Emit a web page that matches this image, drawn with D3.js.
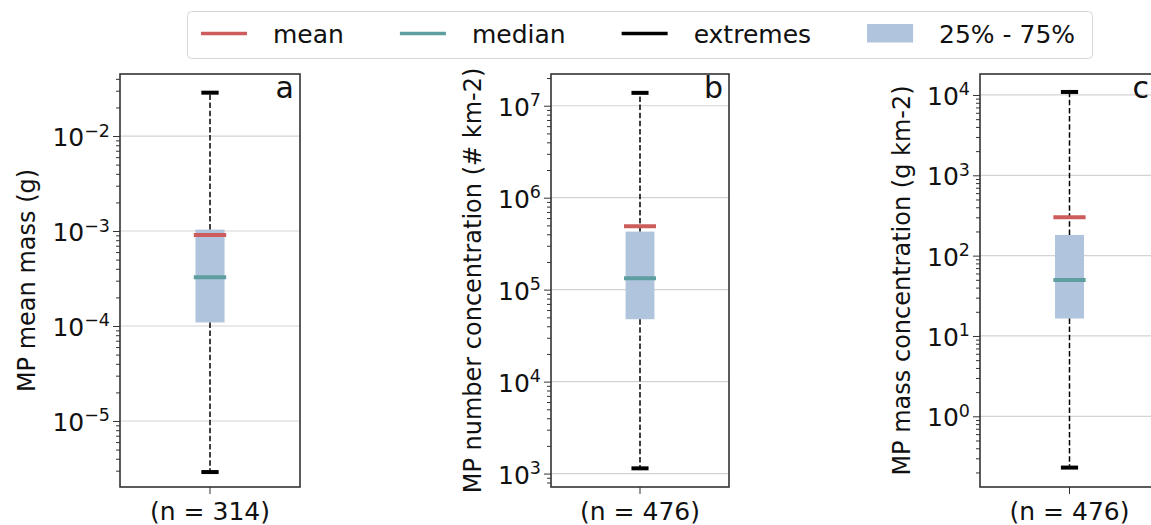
<!DOCTYPE html>
<html><head><meta charset="utf-8">
<script src="https://cdn.jsdelivr.net/npm/d3@7"></script>
<style>body{margin:0;background:#fff} svg{display:block;font-family:"DejaVu Sans",sans-serif}</style>
</head><body><svg id="chart" width="1151" height="525"></svg>
<script>
// ---- data ----
const panelLetters = ["a", "b", "c"];
const yLabels = ["MP mean mass (g)", "MP number concentration (# km-2)", "MP mass concentration (g km-2)"];
const nLabels = ["(n = 314)", "(n = 476)", "(n = 476)"];
const minVals    = [2.9e-6, 1.14e3, 0.23];
const q1Vals     = [1.09e-4, 4.77e4, 16.5];
const medianVals = [3.26e-4, 1.33e5, 49.8];
const q3Vals     = [1.035e-3, 4.28e5, 181];
const meanVals   = [9.1e-4, 4.9e5, 300];
const maxVals    = [0.0286, 1.38e7, 1.09e4];
const tickExps   = [[-5, -4, -3, -2], [3, 4, 5, 6, 7], [0, 1, 2, 3, 4]];
const yDomains   = [[Math.pow(10, -5.695), Math.pow(10, -1.347)],
                    [Math.pow(10, 2.854), Math.pow(10, 7.345)],
                    [Math.pow(10, -0.880), Math.pow(10, 4.261)]];
const legendLabels = ["mean", "median", "extremes", "25% - 75%"];

// ---- style / layout ----
const colors = {mean: "#cd5c5c", median: "#5f9ea0", box: "#b0c4de", ext: "#000000"};
const frames = [{left: 120, right: 300}, {left: 551, right: 729}, {left: 980, right: 1159}];
const plotTop = 74, plotBottom = 487;
const FS = 25;
const W = 1151;

const svg = d3.select("#chart");

panelLetters.forEach((letter, i) => {
  const f = frames[i];
  const g = svg.append("g");
  const y = d3.scaleLog().domain(yDomains[i]).range([plotBottom, plotTop]);
  const x = d3.scaleLinear().domain([0.5, 1.5]).range([f.left, f.right]);
  const majors = tickExps[i].map(e => Math.pow(10, e));
  const d0 = Math.floor(Math.log10(yDomains[i][0])), d1 = Math.ceil(Math.log10(yDomains[i][1]));
  const minors = [];
  for (let d = d0; d <= d1; d++) for (let k = 2; k <= 9; k++) {
    const v = k * Math.pow(10, d);
    if (v >= yDomains[i][0] && v <= yDomains[i][1]) minors.push(v);
  }

  // grid
  g.selectAll("line.grid").data(majors).join("line").attr("class", "grid")
    .attr("x1", f.left).attr("x2", f.right)
    .attr("y1", d => y(d)).attr("y2", d => y(d))
    .attr("stroke", "#d3d3d3").attr("stroke-width", 1.2);

  // box
  g.append("rect")
    .attr("x", x(1 - 0.081)).attr("width", x(1 + 0.081) - x(1 - 0.081))
    .attr("y", y(q3Vals[i])).attr("height", y(q1Vals[i]) - y(q3Vals[i]))
    .attr("fill", colors.box);

  // whiskers
  [[q3Vals[i], maxVals[i]], [q1Vals[i], minVals[i]]].forEach(([a, b]) => {
    g.append("line").attr("x1", x(1)).attr("x2", x(1))
      .attr("y1", y(a)).attr("y2", y(b))
      .attr("stroke", "#000").attr("stroke-width", 1.5)
      .attr("stroke-dasharray", "5.5,2.6");
  });
  // caps
  [maxVals[i], minVals[i]].forEach(v => {
    g.append("line").attr("x1", x(1 - 0.048)).attr("x2", x(1 + 0.048))
      .attr("y1", y(v)).attr("y2", y(v))
      .attr("stroke", colors.ext).attr("stroke-width", 4);
  });
  // median & mean
  [[medianVals[i], colors.median], [meanVals[i], colors.mean]].forEach(([v, c]) => {
    g.append("line").attr("x1", x(1 - 0.09)).attr("x2", x(1 + 0.09))
      .attr("y1", y(v)).attr("y2", y(v))
      .attr("stroke", c).attr("stroke-width", 4);
  });

  // frame
  g.append("rect").attr("x", f.left).attr("y", plotTop)
    .attr("width", f.right - f.left).attr("height", plotBottom - plotTop)
    .attr("fill", "none").attr("stroke", "#333").attr("stroke-width", 1.6);

  // ticks
  const majAxis = d3.axisLeft(y).tickValues(majors).tickSize(7).tickFormat("");
  const minAxis = d3.axisLeft(y).tickValues(minors).tickSize(4).tickFormat("");
  [majAxis, minAxis].forEach(ax => {
    const a = g.append("g").attr("transform", `translate(${f.left},0)`).call(ax);
    a.select(".domain").remove();
    a.selectAll("line").attr("stroke", "#333").attr("stroke-width", 1);
  });

  // tick labels
  const tl = g.append("g");
  tickExps[i].forEach(e => {
    const t = tl.append("text").attr("x", f.left - 10).attr("y", y(Math.pow(10, e)) + 10)
      .attr("text-anchor", "end").attr("font-size", FS).attr("fill", "#111");
    t.append("tspan").text("10");
    t.append("tspan").attr("font-size", 17.5).attr("dy", -9.5).text(e < 0 ? "\u2212" + (-e) : String(e));
  });
  const minX = tl.node().getBBox().x;

  // y label
  const ly = (plotTop + plotBottom) / 2;
  const lx = minX - 17.5;
  g.append("text").attr("transform", `translate(${lx},${ly}) rotate(-90)`)
    .attr("text-anchor", "middle").attr("font-size", 24).attr("fill", "#111")
    .text(yLabels[i]);

  // x tick + label
  g.append("line").attr("x1", x(1)).attr("x2", x(1)).attr("y1", plotBottom).attr("y2", plotBottom + 7)
    .attr("stroke", "#333").attr("stroke-width", 1);
  g.append("text").attr("x", x(1)).attr("y", 520).attr("text-anchor", "middle")
    .attr("font-size", FS).attr("fill", "#111").text(nLabels[i]);

  // panel letter
  g.append("text").attr("x", Math.min(f.right - 6, W - 2)).attr("y", 98).attr("text-anchor", "end")
    .attr("font-size", 30).attr("fill", "#111").text(letter);
});

// ---- legend ----
const lg = svg.append("g");
lg.append("rect").attr("x", 187.5).attr("y", 11.5).attr("width", 905).attr("height", 47)
  .attr("rx", 4).attr("fill", "#fff").attr("stroke", "#d6d6d6").attr("stroke-width", 1);
const legendKinds = ["mean", "median", "ext", "box"];
let cx = 201;
legendLabels.forEach((lab, k) => {
  const kind = legendKinds[k];
  if (kind === "box") {
    lg.append("rect").attr("x", cx).attr("y", 24).attr("width", 46).attr("height", 18.5).attr("fill", colors.box);
  } else {
    lg.append("line").attr("x1", cx).attr("x2", cx + 46).attr("y1", 33.5).attr("y2", 33.5)
      .attr("stroke", colors[kind]).attr("stroke-width", 3.3);
  }
  const t = lg.append("text").attr("x", cx + 72).attr("y", 42.5).attr("font-size", FS)
    .attr("fill", "#111").text(lab);
  cx = cx + 72 + t.node().getComputedTextLength() + 56;
});
</script></body></html>
